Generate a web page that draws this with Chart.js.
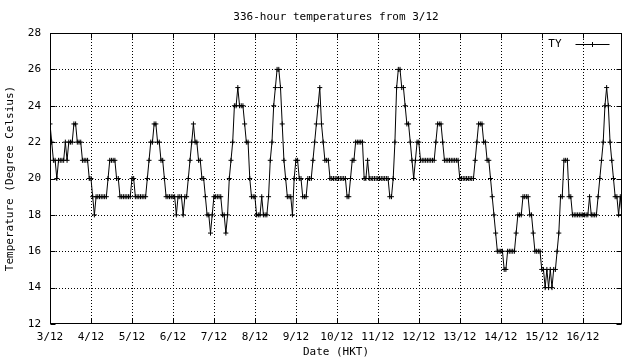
<!DOCTYPE html>
<html>
<head>
<meta charset="utf-8">
<script src="https://cdn.jsdelivr.net/npm/chart.js@4.4.0/dist/chart.umd.min.js"></script>
<style>
  html, body { margin: 0; padding: 0; background: #fff; }
</style>
</head>
<body>
<canvas id="chartCanvas" width="640" height="360"></canvas>
<script>
// hourly temperatures, 336 hours starting 3/12 00:00 (one row per day)
const temps = [
  23,22,21,21,20,21,21,21,21,22,21,22,22,22,23,23,22,22,22,21,21,21,21,20, // 3/12
  20,19,18,19,19,19,19,19,19,19,20,21,21,21,21,20,20,19,19,19,19,19,19,19, // 4/12
  20,20,19,19,19,19,19,19,19,20,21,22,22,23,23,22,22,21,21,20,19,19,19,19, // 5/12
  19,19,18,19,19,19,18,19,19,20,21,22,23,22,22,21,21,20,20,19,18,18,17,18, // 6/12
  19,19,19,19,19,18,18,17,18,20,21,22,24,24,25,24,24,24,23,22,22,20,19,19, // 7/12
  19,18,18,18,19,18,18,18,19,21,22,24,25,26,26,25,23,21,20,19,19,19,18,20, // 8/12
  21,21,20,20,19,19,19,20,20,20,21,22,23,24,25,23,22,21,21,21,20,20,20,20, // 9/12
  20,20,20,20,20,20,19,19,20,21,21,22,22,22,22,22,20,20,21,20,20,20,20,20, // 10/12
  20,20,20,20,20,20,20,19,19,20,22,25,26,26,25,25,24,23,23,22,21,20,21,22, // 11/12
  22,21,21,21,21,21,21,21,21,21,22,23,23,23,22,21,21,21,21,21,21,21,21,21, // 12/12
  20,20,20,20,20,20,20,20,20,21,22,23,23,23,22,22,21,21,20,19,18,17,16,16, // 13/12
  16,16,15,15,16,16,16,16,16,17,18,18,18,19,19,19,19,18,18,17,16,16,16,16, // 14/12
  15,15,14,15,14,15,14,15,15,16,17,19,19,21,21,21,19,19,18,18,18,18,18,18, // 15/12
  18,18,18,18,19,18,18,18,18,19,20,21,22,24,25,24,22,21,20,19,19,18,19,18  // 16/12
];
const dayLabels = ['3/12', '4/12', '5/12', '6/12', '7/12', '8/12', '9/12',
  '10/12', '11/12', '12/12', '13/12', '14/12', '15/12', '16/12'];
const yTicks = [12, 14, 16, 18, 20, 22, 24, 26, 28];
const seriesName = 'TY';
const chartTitle = '336-hour temperatures from 3/12';
const xTitle = 'Date (HKT)';
const yTitle = 'Temperature (Degree Celsius)';

const FONT = "'DejaVu Sans Mono', 'Liberation Mono', monospace";
const TICK = 5;

// gnuplot look: dotted grid, full border, inward tics, legend + title
const gnuplotFrame = {
  id: 'gnuplotFrame',
  beforeDatasetsDraw(chart) {
    const { ctx, chartArea: a, scales: { x, y } } = chart;
    ctx.save();
    ctx.strokeStyle = '#000';
    ctx.lineWidth = 1;
    ctx.setLineDash([1, 2]);
    x.ticks.forEach(t => {
      const px = Math.round(x.getPixelForValue(t.value)) + 0.5;
      if (px <= a.left + 1 || px >= a.right - 1) return;
      ctx.beginPath(); ctx.moveTo(px, a.top); ctx.lineTo(px, a.bottom); ctx.stroke();
    });
    y.ticks.forEach(t => {
      const py = Math.round(y.getPixelForValue(t.value)) + 0.5;
      if (py <= a.top + 1 || py >= a.bottom - 1) return;
      ctx.beginPath(); ctx.moveTo(a.left, py); ctx.lineTo(a.right, py); ctx.stroke();
    });
    ctx.restore();
  },
  afterDatasetsDraw(chart) {
    const { ctx, chartArea: a, scales: { x, y } } = chart;
    const L = Math.round(a.left) + 0.5, R = Math.round(a.right) - 0.5;
    const T = Math.round(a.top) + 0.5, B = Math.round(a.bottom) - 0.5;
    ctx.save();
    ctx.strokeStyle = '#000';
    ctx.lineWidth = 1;
    ctx.setLineDash([]);
    ctx.strokeRect(L, T, R - L, B - T);
    ctx.beginPath();
    x.ticks.forEach(t => {
      const px = Math.round(x.getPixelForValue(t.value)) + 0.5;
      ctx.moveTo(px, B); ctx.lineTo(px, B - TICK);
      ctx.moveTo(px, T); ctx.lineTo(px, T + TICK);
    });
    y.ticks.forEach(t => {
      const py = Math.round(y.getPixelForValue(t.value)) + 0.5;
      ctx.moveTo(L, py); ctx.lineTo(L + TICK, py);
      ctx.moveTo(R, py); ctx.lineTo(R - TICK, py);
    });
    ctx.stroke();

    // legend
    const ly = T + 11;
    const lx0 = R - 46, lx1 = R - 12, lc = (lx0 + lx1) / 2;
    ctx.fillStyle = '#000';
    ctx.font = '11px ' + FONT;
    ctx.textAlign = 'right';
    ctx.textBaseline = 'middle';
    ctx.fillText(chart.data.datasets[0].label, lx0 - 14, ly);
    ctx.beginPath();
    ctx.moveTo(lx0, ly); ctx.lineTo(lx1, ly);
    ctx.moveTo(lc - 2.5, ly); ctx.lineTo(lc + 2.5, ly);
    ctx.moveTo(lc, ly - 2.5); ctx.lineTo(lc, ly + 2.5);
    ctx.stroke();

    // title
    ctx.textAlign = 'center';
    ctx.fillText(chartTitle, (a.left + a.right) / 2, 17);
    ctx.restore();
  }
};

const ctx = document.getElementById('chartCanvas').getContext('2d');
const chart = new Chart(ctx, {
  type: 'line',
  data: {
    datasets: [{
      label: seriesName,
      data: temps.map((v, i) => ({ x: i, y: v })),
      borderColor: '#000',
      backgroundColor: '#000',
      borderWidth: 1,
      tension: 0,
      pointStyle: 'cross',
      pointRadius: 2.5,
      pointBorderWidth: 1,
      pointBorderColor: '#000'
    }]
  },
  options: {
    responsive: false,
    animation: false,
    events: [],
    layout: { padding: { top: 33, right: 18, left: 0, bottom: 0 } },
    plugins: { legend: { display: false }, tooltip: { enabled: false } },
    scales: {
      x: {
        type: 'linear',
        min: 0,
        max: temps.length - 1,
        afterFit: s => { s.height = 36; },
        afterBuildTicks: s => { s.ticks = dayLabels.map((_, i) => ({ value: i * 24 })); },
        grid: { display: false, drawTicks: false },
        border: { display: false },
        ticks: {
          padding: 7,
          maxRotation: 0,
          autoSkip: false,
          color: '#000',
          font: { family: FONT, size: 11 },
          callback: v => dayLabels[v / 24]
        },
        title: {
          display: true, text: xTitle, color: '#000',
          font: { family: FONT, size: 11 },
          padding: { top: 0, bottom: 1 }
        }
      },
      y: {
        min: 12,
        max: 28,
        afterFit: s => { s.width = 50; },
        afterBuildTicks: s => { s.ticks = yTicks.map(v => ({ value: v })); },
        grid: { display: false, drawTicks: false },
        border: { display: false },
        ticks: {
          padding: 9,
          color: '#000',
          font: { family: FONT, size: 11 }
        },
        title: {
          display: true, text: yTitle, color: '#000',
          font: { family: FONT, size: 11 },
          padding: { top: 4, bottom: 0 }
        }
      }
    }
  },
  plugins: [gnuplotFrame]
});
</script>
</body>
</html>
